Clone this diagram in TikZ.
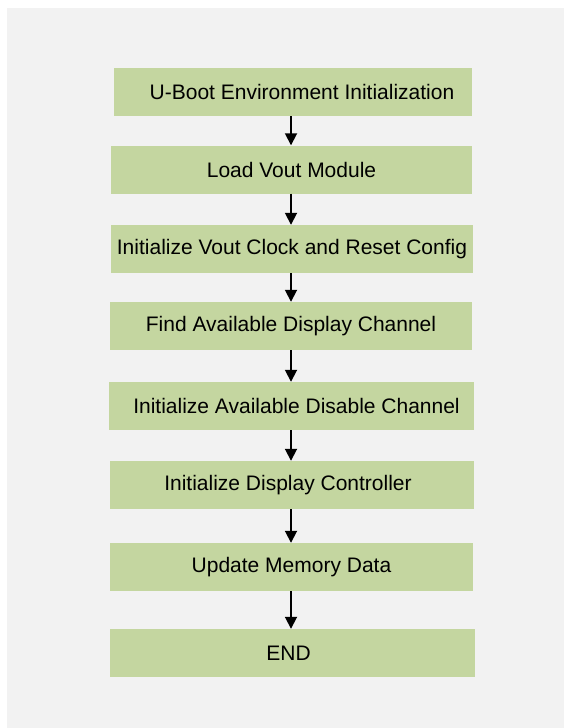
\documentclass[tikz,border=0pt]{standalone}
\usepackage{fontspec}
\setmainfont{Liberation Sans}
\usepackage{tikz}
\usetikzlibrary{arrows.meta}
\usetikzlibrary{positioning}
\definecolor{stepgreen}{HTML}{C4D6A0}
\definecolor{pagegray}{HTML}{F2F2F2}
\tikzstyle{stepbox}=[rectangle,fill=stepgreen,draw=none,minimum height=48pt,
                inner sep=0pt,font=\fontsize{21}{25}\selectfont]
\tikzstyle{flow}=[line width=1.8pt,-{Triangle[width=12pt,length=12pt]}]

\begin{document}
\begin{tikzpicture}[x=1pt,y=1pt]
\useasboundingbox (0,0) rectangle (564,-728);
\fill[pagegray] (7,-8) rectangle (564,-728);
\coordinate (axis) at (291,0);
\node[stepbox,minimum width=358pt] (b1) at (293,-92) {\hspace{18pt}U-Boot Environment Initialization};
\node[stepbox,minimum width=361pt] (b2) at (291.5,-169.5) {Load Vout Module};
\node[stepbox,minimum width=362pt] (b3) at (292,-249) {Initialize Vout Clock and Reset Config};
\node[stepbox,minimum width=362pt] (b4) at (291,-326) {Find Available Display Channel};
\node[stepbox,minimum width=365pt] (b5) at (291.5,-406) {\hspace{10pt}Initialize Available Disable Channel};
\node[stepbox,minimum width=364pt] (b6) at (292,-485) {\hspace{-8pt}Initialize Display Controller};
\node[stepbox,minimum width=363pt] (b7) at (291.5,-567) {Update Memory Data};
\node[stepbox,minimum width=365pt] (b8) at (292.5,-653) {\hspace{-8pt}END};
\foreach \a/\b in {b1/b2,b2/b3,b3/b4,b4/b5,b5/b6,b6/b7,b7/b8}
  \draw[flow] (\a.south -| axis) -- (\b.north -| axis);
\end{tikzpicture}
\end{document}
